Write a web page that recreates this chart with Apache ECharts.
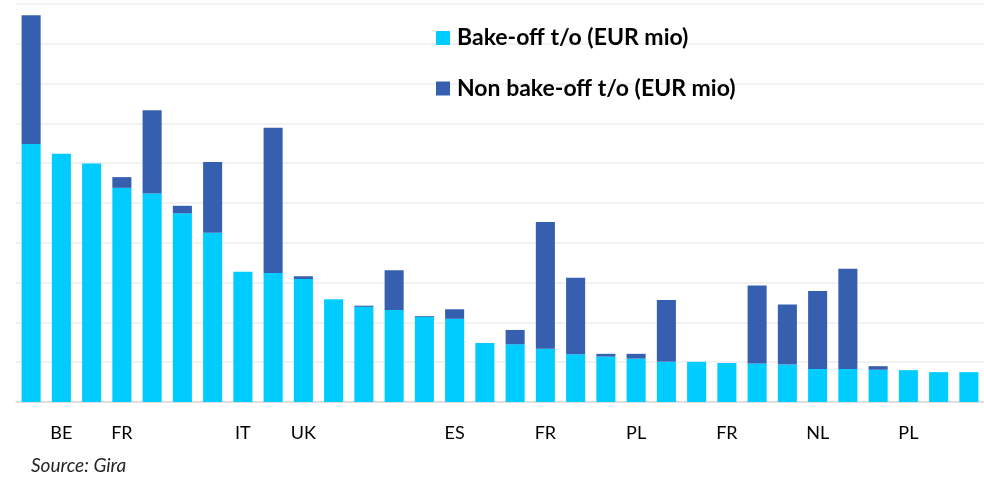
<!DOCTYPE html>
<html>
<head>
<meta charset="utf-8">
<script src="https://cdn.jsdelivr.net/npm/echarts@6/dist/echarts.min.js"></script>
<style>html,body{margin:0;padding:0;background:#fff;}#c{width:984px;height:477px;}</style>
</head>
<body>
<div id="c"></div>
<script>
const categories = ['', 'BE', '', 'FR', '', '', '', 'IT', '', 'UK', '', '', '', '', 'ES', '', '', 'FR', '', '', 'PL', '', '', 'FR', '', '', 'NL', '', '', 'PL', '', ''];
const bakeOff = [64.8, 62.4, 59.9, 53.8, 52.4, 47.4, 42.5, 32.7, 32.4, 30.9, 25.8, 23.9, 23.1, 21.4, 20.9, 14.8, 14.5, 13.4, 12.0, 11.4, 10.9, 10.1, 10.1, 9.8, 9.7, 9.4, 8.3, 8.3, 8.1, 8.0, 7.5, 7.5];
const nonBakeOff = [32.4, 0, 0, 2.7, 20.9, 1.9, 17.8, 0, 36.5, 0.7, 0, 0.3, 10.0, 0.2, 2.4, 0, 3.6, 31.8, 19.2, 0.7, 1.2, 15.5, 0, 0, 19.6, 15.1, 19.6, 25.2, 0.9, 0, 0, 0];
const seriesNames = ['Bake-off t/o (EUR mio)', 'Non bake-off t/o (EUR mio)'];
const sourceText = 'Source: Gira';

const chart = echarts.init(document.getElementById('c'));
chart.setOption({
  animation: false,
  backgroundColor: '#ffffff',
  grid: { left: 16, right: 0, top: 4, bottom: 75, containLabel: false },
  legend: {
    orient: 'vertical',
    left: 436,
    top: 25.5,
    padding: 0,
    itemWidth: 14,
    itemHeight: 14,
    itemGap: 25.5,
    icon: 'rect',
    data: seriesNames,
    textStyle: { fontFamily: 'Lato', fontWeight: 'bold', fontSize: 23, color: '#000', lineHeight: 25, padding: [0,0,0,2] }
  },
  xAxis: {
    type: 'category',
    data: categories,
    axisTick: { show: false },
    axisLine: { lineStyle: { color: '#d9d9d9', width: 1.5 } },
    axisLabel: { interval: 0, margin: 22, fontFamily: 'Lato', fontSize: 18, color: '#000' }
  },
  yAxis: {
    type: 'value',
    min: 0, max: 100, interval: 10,
    axisLabel: { show: false },
    axisLine: { show: false },
    axisTick: { show: false },
    splitLine: { lineStyle: { color: '#eeeeee', width: 1.5 } }
  },
  series: [
    { name: seriesNames[0], type: 'bar', stack: 's', data: bakeOff, barCategoryGap: '37%',
      itemStyle: { color: '#00ccff' } },
    { name: seriesNames[1], type: 'bar', stack: 's', data: nonBakeOff, barCategoryGap: '37%',
      itemStyle: { color: '#365fb0' } }
  ],
  graphic: [
    { type: 'text', left: 31, top: 456, style: { text: sourceText, fontFamily: 'Lato', fontStyle: 'italic', fontSize: 19, fill: '#262626' } }
  ]
});
</script>
</body>
</html>
